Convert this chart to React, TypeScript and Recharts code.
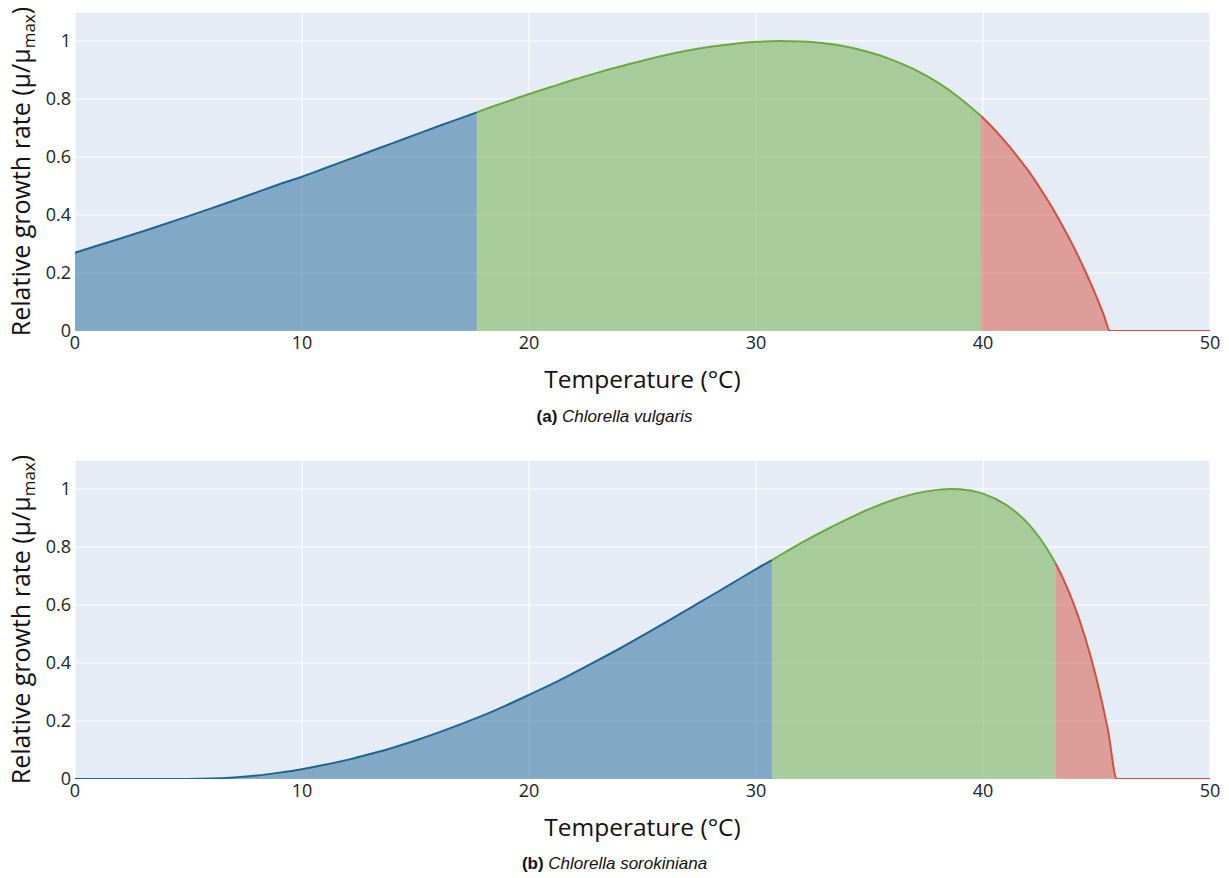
import { Area, AreaChart, CartesianGrid, XAxis, YAxis } from 'recharts';

// Chlorella vulgaris, relative growth rate vs temperature
const vulgarisTemp = [
  0, 1, 2, 3, 4, 5, 6, 7, 8, 9, 10, 11, 12, 13, 14, 15, 16, 17, 17.7, 18, 19, 20, 21, 22, 23, 24,
  25, 26, 27, 28, 29, 30, 31, 32, 33, 34, 35, 36, 37, 38, 39, 39.9, 40.5, 41, 41.5, 42, 42.5, 43,
  43.5, 44, 44.5, 45, 45.3, 45.6, 50,
];
const vulgarisRate = [
  0.27, 0.295, 0.319, 0.344, 0.37, 0.396, 0.423, 0.45, 0.478, 0.506, 0.532, 0.561, 0.59, 0.619,
  0.648, 0.677, 0.706, 0.734, 0.754, 0.763, 0.79, 0.817, 0.842, 0.867, 0.89, 0.912, 0.932, 0.951,
  0.967, 0.98, 0.99, 0.997, 1.0, 0.998, 0.992, 0.98, 0.961, 0.935, 0.901, 0.857, 0.802, 0.742,
  0.695, 0.651, 0.603, 0.552, 0.494, 0.432, 0.363, 0.289, 0.207, 0.118, 0.06, 0, 0,
];
const vulgarisZones = [17.7, 39.9];

// Chlorella sorokiniana
const sorokinianaTemp = [
  0, 5, 6, 7, 8, 9, 10, 11, 12, 13, 14, 15, 16, 17, 18, 19, 20, 21, 22, 23, 24, 25, 26, 27, 28, 29,
  30, 30.7, 31, 32, 33, 34, 35, 36, 37, 38, 38.6, 39, 40, 41, 41.5, 42, 42.5, 43, 43.2, 43.5, 44,
  44.5, 45, 45.5, 45.9, 50,
];
const sorokinianaRate = [
  0, 0, 0.0014, 0.0055, 0.012, 0.022, 0.034, 0.049, 0.066, 0.086, 0.108, 0.133, 0.16, 0.189, 0.22,
  0.254, 0.29, 0.327, 0.367, 0.408, 0.45, 0.494, 0.539, 0.585, 0.631, 0.677, 0.724, 0.755, 0.769,
  0.814, 0.856, 0.895, 0.931, 0.961, 0.984, 0.997, 1.0, 0.999, 0.984, 0.946, 0.917, 0.88, 0.831,
  0.771, 0.743, 0.696, 0.603, 0.488, 0.346, 0.171, 0, 0,
];
const sorokinianaZones = [30.7, 43.2];

const xTicks = [0, 10, 20, 30, 40, 50];
const yTicks = [0, 0.2, 0.4, 0.6, 0.8, 1];

const BLUE = '#1d6596';
const GREEN = '#6aaa3f';
const RED = '#d5503c';
const FONT = '"Open Sans", sans-serif';

function buildRows(temps: number[], rates: number[], zones: number[]) {
  const [lo, hi] = zones;
  return temps.map((t, i) => ({
    t,
    low: t <= lo ? rates[i] : null,
    opt: t >= lo && t <= hi ? rates[i] : null,
    high: t >= hi ? rates[i] : null,
  }));
}

function YTitle({ viewBox }: any) {
  const cx = 30;
  const cy = viewBox.y + viewBox.height / 2;
  return (
    <text
      x={cx}
      y={cy}
      transform={`rotate(-90, ${cx}, ${cy})`}
      textAnchor="middle"
      fontFamily={FONT}
      fontSize={25}
      fill="#111"
    >
      Relative growth rate (μ/μ
      <tspan fontSize={17} dy={5}>
        max
      </tspan>
      <tspan dy={-5}>)</tspan>
    </text>
  );
}

function XTitle({ viewBox }: any) {
  return (
    <text
      x={viewBox.x + viewBox.width / 2}
      y={viewBox.y + 57}
      textAnchor="middle"
      fontFamily={FONT}
      fontSize={24.5}
      fill="#111"
    >
      Temperature (°C)
    </text>
  );
}

function GrowthPanel({ rows }: { rows: ReturnType<typeof buildRows> }) {
  const tick = { fill: '#222', fontSize: 18, fontFamily: FONT };
  return (
    <AreaChart width={1229} height={400} data={rows} margin={{ top: 12, right: 19, bottom: 0, left: 0 }}>
      <CartesianGrid stroke="#ffffff" strokeWidth={1} fill="#e5ecf6" />
      <XAxis
        dataKey="t"
        type="number"
        domain={[0, 50]}
        ticks={xTicks}
        interval={0}
        height={69}
        axisLine={false}
        tickLine={false}
        tickSize={0}
        tickMargin={5}
        tick={tick}
        label={{ content: (p: any) => <XTitle {...p} /> }}
      />
      <YAxis
        type="number"
        domain={[0, 1.1]}
        ticks={yTicks}
        interval={0}
        width={75}
        axisLine={false}
        tickLine={false}
        tickSize={0}
        tickMargin={4}
        tick={tick}
        allowDataOverflow
        label={{ content: (p: any) => <YTitle {...p} /> }}
      />
      <Area
        dataKey="low"
        type="monotone"
        stroke={BLUE}
        strokeWidth={2}
        fill={BLUE}
        fillOpacity={0.5}
        isAnimationActive={false}
        dot={false}
        activeDot={false}
      />
      <Area
        dataKey="opt"
        type="monotone"
        stroke={GREEN}
        strokeWidth={2}
        fill={GREEN}
        fillOpacity={0.5}
        isAnimationActive={false}
        dot={false}
        activeDot={false}
      />
      <Area
        dataKey="high"
        type="monotone"
        stroke={RED}
        strokeWidth={2}
        fill={RED}
        fillOpacity={0.5}
        isAnimationActive={false}
        dot={false}
        activeDot={false}
      />
    </AreaChart>
  );
}

function Caption({ top, tag, name }: { top: number; tag: string; name: string }) {
  return (
    <div
      style={{
        position: 'absolute',
        top,
        left: 0,
        width: 1229,
        textAlign: 'center',
        fontFamily: '"Liberation Sans", Arial, sans-serif',
        fontSize: 17,
        lineHeight: '20px',
        color: '#111',
      }}
    >
      <b>{tag}</b> <i>{name}</i>
    </div>
  );
}

export default function App() {
  const rowsA = buildRows(vulgarisTemp, vulgarisRate, vulgarisZones);
  const rowsB = buildRows(sorokinianaTemp, sorokinianaRate, sorokinianaZones);
  return (
    <div style={{ position: 'absolute', left: 0, top: 0, width: 1229, height: 878, background: '#fff' }}>
      <div style={{ position: 'absolute', left: 0, top: 0 }}>
        <GrowthPanel rows={rowsA} />
      </div>
      <div style={{ position: 'absolute', left: 0, top: 448 }}>
        <GrowthPanel rows={rowsB} />
      </div>
      <Caption top={407} tag="(a)" name="Chlorella vulgaris" />
      <Caption top={854} tag="(b)" name="Chlorella sorokiniana" />
    </div>
  );
}
